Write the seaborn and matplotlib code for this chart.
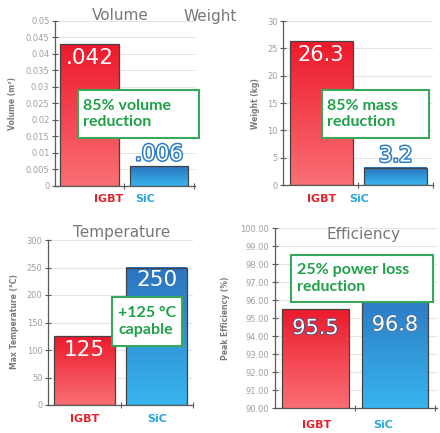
import numpy as np
import seaborn as sns
import matplotlib
matplotlib.use('Agg')
import matplotlib.pyplot as plt
from matplotlib.colors import LinearSegmentedColormap
from matplotlib.patches import Rectangle
import matplotlib.patheffects as pe
from matplotlib.ticker import FuncFormatter, MultipleLocator

# ---------------- data ----------------
categories = ['IGBT', 'SiC']
volume = [0.043, 0.006]
weight = [26.3, 3.2]
temperature = [125, 250]
efficiency = [95.5, 96.8]
volume_labels = ['.042', '.006']
weight_labels = ['26.3', '3.2']
temperature_labels = ['125', '250']
efficiency_labels = ['95.5', '96.8']
titles = ['Volume', 'Weight', 'Temperature', 'Efficiency']
ylabels = ['Volume (m³)', 'Weight (kg)', 'Max Temperature (°C)', 'Peak Efficiency (%)']
notes = ['85% volume\nreduction', '85% mass\nreduction', '+125 °C\ncapable',
         '25% power loss\nreduction']

sns.set_theme(style='white')
plt.rcParams['font.family'] = ['DejaVu Sans']

W, H = 440, 433
fig = plt.figure(figsize=(W / 100, H / 100), dpi=100)
fig.patch.set_facecolor('white')

red_cm = LinearSegmentedColormap.from_list('red', ['#fa6f74', '#ec1a2c'])
blue_cm = LinearSegmentedColormap.from_list('blue', ['#37b5ee', '#2c74bd'])
cat_colors = ['#e3222c', '#2aa7e0']

panels = [
    dict(vals=volume, labels=volume_labels, rect=(55, 21, 195, 186), ylim=(0, 0.05), step=0.005,
         fmt=lambda v, p: '%g' % round(v, 4), xlim=(-0.496, 1.518), ticks=[0.28, 0.80], tickpad=8,
         offs=[-14, 12], styles=['plain', 'blue'], fs=15.5,
         title=(120, 16), ylab=(12, 104), box=(78, 90, 199, 138), tx=83),
    dict(vals=weight, labels=weight_labels, rect=(283, 21, 433, 185), ylim=(0, 30), step=5,
         fmt=lambda v, p: '%d' % v, xlim=(-0.513, 1.487), ticks=[0.0, 0.51], tickpad=9,
         offs=[-13.5, 12], styles=['plain', 'blue'], fs=15,
         title=(210, 16), ylab=(255, 104), box=(322, 90, 429, 138), tx=327),
    dict(vals=temperature, labels=temperature_labels, rect=(48, 240, 193, 405), ylim=(0, 300), step=50,
         fmt=lambda v, p: '%d' % v, xlim=(-0.503, 1.497), ticks=[0.0, 1.0], tickpad=9,
         offs=[-14, -13], styles=['plain', 'plain'], fs=15.5,
         title=(122, 233), ylab=(15, 322), box=(112, 297, 182, 346), tx=118),
    dict(vals=efficiency, labels=efficiency_labels, rect=(275, 228, 437, 408), ylim=(90, 100), step=1,
         fmt=lambda v, p: '%.2f' % v, xlim=(-0.509, 1.528), ticks=[0.02, 0.85], tickpad=12,
         offs=[-19, -39], styles=['dark', 'light'], fs=15,
         title=(363, 234), ylab=(225, 318), box=(291, 255, 433, 302), tx=297),
]

grad = np.linspace(0, 1, 128).reshape(-1, 1)

for k, P in enumerate(panels):
    x0, y0, x1, y1 = P['rect']
    ax = fig.add_axes([x0 / W, 1 - y1 / H, (x1 - x0) / W, (y1 - y0) / H])
    ax.set_facecolor('white')
    sns.barplot(x=categories, y=P['vals'], hue=categories, palette=['#ec1a2c', '#2c74bd'],
                width=0.84, edgecolor='#444444', linewidth=0.9, legend=False, ax=ax)
    ybot = P['ylim'][0]
    for i, p in enumerate(ax.patches):
        bx, bw = p.get_x(), p.get_width()
        top = p.get_y() + p.get_height()
        p.set_facecolor('none')
        p.set_zorder(2)
        ax.imshow(grad, extent=[bx, bx + bw, ybot, top], origin='lower', aspect='auto',
                  cmap=[red_cm, blue_cm][i], zorder=1.5)
    ax.set_xlim(*P['xlim'])
    ax.set_ylim(*P['ylim'])
    ax.yaxis.set_major_locator(MultipleLocator(P['step']))
    ax.yaxis.set_major_formatter(FuncFormatter(P['fmt']))
    ax.grid(axis='y', color='#e4e4e4', linewidth=0.8, zorder=0)
    ax.set_axisbelow(True)
    for s in ['top', 'right']:
        ax.spines[s].set_visible(False)
    for s in ['left', 'bottom']:
        ax.spines[s].set_color('#5a5a5a')
        ax.spines[s].set_linewidth(0.9)
    ax.tick_params(axis='y', direction='inout', length=4, width=0.8, color='#5a5a5a',
                   labelsize=6, labelcolor='#a0a0a0', pad=2, left=True)
    ax.set_xticks(P['ticks'])
    ax.set_xticklabels(categories, fontsize=8, fontweight='bold')
    for lab, c in zip(ax.get_xticklabels(), cat_colors):
        lab.set_color(c)
    ax.tick_params(axis='x', length=0, pad=P['tickpad'] * 0.72)
    ax.set_xticks([0.5, 1.5], minor=True)
    ax.tick_params(axis='x', which='minor', direction='inout', length=4, width=0.8,
                   color='#5a5a5a', bottom=True)
    ax.set_xlabel('')
    ax.set_ylabel('')

    for i, (v, lbl) in enumerate(zip(P['vals'], P['labels'])):
        st = P['styles'][i]
        if st == 'plain':
            eff = None
        elif st == 'blue':
            eff = [pe.withStroke(linewidth=2.2, foreground='#2f7dc4')]
        elif st == 'dark':
            eff = [pe.withStroke(linewidth=1.3, foreground='#50507a')]
        else:
            eff = [pe.withStroke(linewidth=1.0, foreground='#4f6f9a')]
        ax.annotate(lbl, xy=(i, v), xytext=(0, P['offs'][i]), textcoords='offset pixels',
                    ha='center', va='center', fontsize=P['fs'], family='DejaVu Sans',
                    color='white', path_effects=eff, zorder=4, annotation_clip=False)

    tx, ty = P['title']
    fig.text(tx / W, 1 - ty / H, titles[k], ha='center', va='center', fontsize=11,
             color='#787878')
    lx, ly = P['ylab']
    fig.text(lx / W, 1 - ly / H, ylabels[k], ha='center', va='center', rotation=90,
             fontsize=5.5, fontweight='bold', color='#7a7a7a')

    bx0, by0, bx1, by1 = P['box']
    fig.add_artist(Rectangle((bx0 / W, 1 - by1 / H), (bx1 - bx0) / W, (by1 - by0) / H,
                             transform=fig.transFigure, facecolor='white',
                             edgecolor='#3aa85a', linewidth=1.5, zorder=5))
    fig.text(P['tx'] / W, 1 - ((by0 + by1) / 2) / H, notes[k], ha='left', va='center',
             fontsize=11.5, fontweight='bold', family=['Lato', 'DejaVu Sans'],
             color='#20a049', linespacing=1.25, zorder=6)

fig.savefig('out.png', dpi=100, facecolor='white')
